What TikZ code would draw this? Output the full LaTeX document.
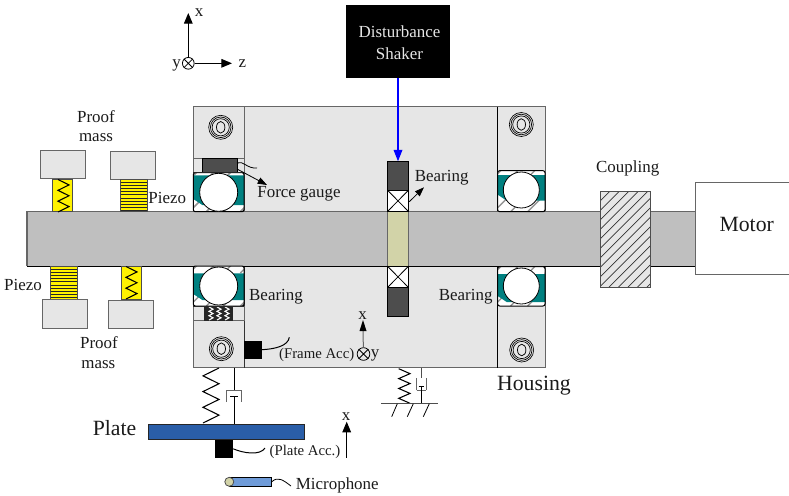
\documentclass[tikz,border=0pt]{standalone}
\usepackage{fontspec}
\setmainfont{Liberation Serif}
\usetikzlibrary{arrows.meta}
\definecolor{hous}{HTML}{E6E6E6}
\definecolor{shaftc}{HTML}{BFBFBF}
\definecolor{edgec}{HTML}{666666}
\definecolor{darkc}{HTML}{4D4D4D}
\definecolor{tealc}{HTML}{008080}
\definecolor{sand}{HTML}{D2D3A8}
\definecolor{platec}{HTML}{2A5EA8}
\definecolor{micc}{HTML}{6F9BD8}
\definecolor{txt}{HTML}{1A1A1A}
\tikzset{
  lab/.style={font=\fontsize{12.7}{14}\selectfont,text=txt,inner sep=0pt},
  labs/.style={font=\fontsize{11.1}{13}\selectfont,text=txt,inner sep=0pt},
  labb/.style={font=\fontsize{16.3}{18}\selectfont,text=txt,inner sep=0pt},
  ed/.style={draw=edgec,line width=0.75pt},
  mass/.style={ed,fill=hous},
  piezo/.style={draw=darkc,line width=0.6pt,fill=yellow},
  zz/.style={line width=0.8pt,line join=miter},
  tip/.style={-{Triangle[length=8pt,width=6.5pt]},line width=0.75pt},
  tipg/.style={-{Triangle[length=8pt,width=6.5pt]},line width=0.75pt},
  wire/.style={line width=0.6pt},
  blok/.style={inner sep=0pt,outer sep=0pt,anchor=north west}
}
% #1 name, #2 x1, #3 y1, #4 x2, #5 y2, #6 style
\newcommand\bx[6]{\pgfmathsetmacro\bw{(#4-#2)*0.75}\pgfmathsetmacro\bh{(#5-#3)*0.75}%
  \node[blok,minimum width=\bw pt,minimum height=\bh pt,#6] (#1) at (#2,#3) {};}
% zigzag: [colour] xl xr ytop ybot segments
\newcommand\zig[6][black]{\draw[zz,#1] plot[samples at={0,...,#6},variable=\k] ({mod(\k,2)==0?#2:#3},{#4+(#5-#4)*\k/#6});}
% bearing: xl xr ytop ybot tealtop tealbot cx cy r
\newcommand\bearing[9]{%
  \begin{scope}
    \clip[rounded corners=1.5pt] (#1,#3) rectangle (#2,#4);
    \fill[white] (#1,#3) rectangle (#2,#4);
    \foreach \q in {-4,13,30,47}{\draw[edgec!70,line width=1.1pt] ({#1+\q},#4) -- ++(14,-14);
      \draw[edgec!70,line width=1.1pt] ({#1+\q},{#3+7}) -- ++(8,-8);}
    \fill[tealc] (#1,#5) -- (#2,#5) -- (#2,#6) -- ({#1+9},#6) -- (#1,{#6-6}) -- cycle;
  \end{scope}
  \draw[black,line width=0.75pt,rounded corners=1.5pt] (#1,#3) rectangle (#2,#4);
  \draw[black,line width=0.6pt,fill=white] (#7,#8) circle[radius=#9];}
% screw: x y
\newcommand\screw[2]{%
  \foreach \r in {12,10.3,8.6}{\draw[line width=0.5pt] (#1,#2) circle[radius=\r];}
  \draw[line width=0.55pt] (#1,#2) ellipse[x radius=4.2,y radius=5.8];}
% crossed box
\newcommand\crossbox[4]{\draw[line width=0.6pt,fill=white] (#1,#3) rectangle (#2,#4);
  \draw[line width=0.6pt] (#1,#3) -- (#2,#4) (#1,#4) -- (#2,#3);}
\begin{document}
\begin{tikzpicture}[x=0.75pt,y=-0.75pt]
\useasboundingbox (0,0) rectangle (789,496);
% housing
\fill[hous] (193.3,106.7) rectangle (545,367.7);
\draw[ed] (193.3,106.7) rectangle (545,367.7);
\draw[ed] (244,106.7) -- (244,211);
\draw[black!80,line width=0.75pt] (244,266) -- (244,367.7);
\draw[black,line width=0.75pt] (497.7,106.7) -- (497.7,367.7);
% motor
\draw[ed,fill=white] (800,182) -- (695.3,182) -- (695.3,274) -- (800,274);
% shaft
\fill[shaftc] (27,211.7) rectangle (695.3,266);
\draw[edgec,line width=1pt] (27,266) -- (27,211.7) -- (695.3,211.7);
\draw[black,line width=0.75pt] (27,266) -- (695.3,266);
% coupling
\begin{scope}
  \clip (600.3,191.3) rectangle (650.3,287.3);
  \fill[hous] (600.3,191.3) rectangle (650.3,287.3);
  \foreach \q in {0,...,16}{\draw[line width=0.45pt,black!80] ({600.3+\q*9.5-96},287.3) -- ++(96,-96);}
\end{scope}
\draw[darkc,line width=0.75pt] (600.3,191.3) rectangle (650.3,287.3);
% upper piezos and masses
\draw[mass] (40.3,150) rectangle (85.7,178.7);
\draw[mass] (110.3,151) rectangle (155.7,179.3);
\draw[piezo] (52,179) rectangle (72.7,211.7);
\zig{58}{69}{212}{179.5}{6}
\draw[piezo] (120.7,179.5) rectangle (147,211.7);
\foreach \q in {0,...,9}{\draw[line width=0.6pt,black!85] (120.7,{182+\q*3.2}) -- (147,{182+\q*3.2});}
% lower piezos and masses
\draw[piezo] (50.7,266) rectangle (77,299.3);
\foreach \q in {0,...,9}{\draw[line width=0.6pt,black!85] (50.7,{269+\q*3.2}) -- (77,{269+\q*3.2});}
\draw[mass] (42,299.3) rectangle (87.3,328);
\draw[piezo] (121,266) rectangle (141.7,299.7);
\zig{126}{137}{266.5}{299}{6}
\draw[mass] (108,300) rectangle (153.3,328.5);
% bearings
\bearing{193.3}{244}{172.7}{211.7}{175.3}{205}{218.7}{192.3}{19}
\bearing{193.3}{244}{266}{306}{273.3}{300}{218.7}{286}{19}
\bearing{497.7}{545}{170.7}{211.7}{175}{200.7}{521.3}{190}{18}
\bearing{497.7}{545}{266.7}{306}{274}{302}{521.3}{286}{18}
% force gauge row
\fill[hous] (193.3,158.7) rectangle (244,172.7);
\draw[ed] (193.3,158.7) rectangle (244,172.7);
\bx{gauge}{202.3}{158.7}{237.3}{172.7}{fill=darkc,draw=black,line width=0.5pt}
\draw[black!85,line width=0.75pt] (193.3,172.7) -- (244,172.7);
% lower force cell
\fill[hous] (193.3,306) rectangle (244,320.7);
\draw[ed] (193.3,306) rectangle (244,320.7);
\fill[black!85] (204,306) rectangle (233.3,320.7);
\zig[white]{209}{213}{307}{320}{6}
\zig[white]{217}{221}{307}{320}{6}
\zig[white]{225}{229}{307}{320}{6}
\draw[black!85,line width=0.75pt] (193.3,306) -- (244,306);
% screws
\screw{220.7}{127.3}
\screw{221.3}{348.7}
\screw{521.3}{124.5}
\screw{521.7}{350}
% centre bearing
\fill[sand] (387.3,211.7) rectangle (408.7,266);
\draw[edgec,line width=0.75pt] (387.3,211.7) rectangle (408.7,266);
\bx{topblock}{387.3}{161.3}{408.7}{190}{fill=darkc,draw=black,line width=0.5pt}
\crossbox{387.3}{408.7}{190}{211.7}
\crossbox{387.3}{408.7}{266}{287.7}
\bx{botblock}{387.3}{287.7}{408.7}{316.7}{fill=darkc,draw=black,line width=0.5pt}
% shaker
\bx{shaker}{345.7}{5}{450.3}{77.5}{fill=black}
\node[lab,text=hous,align=center,font=\fontsize{12.7}{16.5}\selectfont] (shakertxt) at (399.5,43) {Disturbance\\Shaker};
\draw[blue,line width=0.9pt,-{Triangle[length=8.5pt,width=6.5pt]}] (shaker.south -| topblock.north) -- (topblock.north);
% labels
\node[lab] (pm1a) at (96,117) {Proof};
\node[lab] (pm1b) at (96,138) {mass};
\node[lab] (pz1) at (167.3,197.5) {Piezo};
\node[lab] (pz2) at (23,285) {Piezo};
\node[lab] (pm2a) at (99,343) {Proof};
\node[lab] (pm2b) at (98.3,365) {mass};
\node[lab] (fg) at (299,194) {Force gauge};
\node[lab] (b1) at (441.7,178) {Bearing};
\node[lab] (b2) at (276,297) {Bearing};
\node[lab] (b3) at (465.7,297) {Bearing};
\node[lab] (cpl) at (627.7,168) {Coupling};
\node[labb] (mot) at (746.7,224) {Motor};
\node[labb] (hs) at (534,385.5) {Housing};
\node[labb] (pl) at (114.5,428) {Plate};
\node[labs] (fa) at (316.7,355) {(Frame Acc)};
\node[labs] (pa) at (305,451.5) {(Plate Acc.)};
\node[lab] (mc) at (337.3,485) {Microphone};
% leader arrows and wires
\coordinate (fgs) at (237,169);
\coordinate (fge) at (267,185);
\draw[-{Triangle[length=7pt,width=5pt]},line width=0.6pt] (fgs) -- (fge);
\coordinate (fws) at (237,163);
\coordinate (fwe) at (257,168);
\draw[wire] (fws) .. controls (243,160) and (247,169) .. (fwe);
\coordinate (bas) at (409.3,201.7);
\coordinate (bae) at (424,187.3);
\draw[-{Triangle[length=7pt,width=5pt]},line width=0.6pt] (bas) -- (bae);
% frame accelerometer
\bx{facc}{244}{340.7}{262}{358.7}{fill=black}
\coordinate (fae) at (289.3,337.3);
\draw[line width=0.75pt] (facc.east) .. controls (275,349) and (288,346) .. (fae);
% plate
\bx{plate}{148.7}{424}{304.3}{439.7}{fill=platec,draw=black!85,line width=0.75pt}
\bx{pacc}{215.3}{439.7}{233.3}{458}{fill=black}
\coordinate (pae) at (265,448);
\draw[line width=0.75pt] (pacc.east) .. controls (243,453) and (260,456) .. (pae);
% top axes
\node[circle,draw,line width=0.6pt,inner sep=0pt,minimum size=8.8pt] (ax1) at (188.3,63.3) {};
\draw[line width=0.6pt] (ax1.45) -- (ax1.225) (ax1.135) -- (ax1.315);
\coordinate (ax1x) at (188.3,13);
\coordinate (ax1z) at (232,63.3);
\draw[tip] (ax1) -- (ax1x);
\draw[tip] (ax1) -- (ax1z);
\node[lab] (t1x) at (199,13) {x};
\node[lab] (t1y) at (176.7,65) {y};
\node[lab] (t1z) at (242.3,64) {z};
% housing axes
\node[circle,draw,line width=0.6pt,inner sep=0pt,minimum size=9.5pt] (ax2) at (363.5,354) {};
\draw[line width=0.6pt] (ax2.45) -- (ax2.225) (ax2.135) -- (ax2.315);
\coordinate (ax2x) at (363,320);
\draw[line width=0.75pt,draw=edgec] (ax2) -- (363,330);
\fill[black] (ax2x) -- (359.5,331) -- (366.5,331) -- cycle;
\node[lab] (t2x) at (362.7,315.5) {x};
\node[lab] (t2y) at (375,355) {y};
% plate x arrow
\coordinate (ax3a) at (346.7,457.7);
\coordinate (ax3b) at (346.7,421.7);
\draw[tip] (ax3a) -- (ax3b);
\node[lab] (t3x) at (346,417) {x};
% left suspension
\coordinate (hb1) at (234,367.7);
\coordinate (cup1) at (234,390);
\coordinate (pis1) at (234,396.7);
\draw[line width=0.75pt] (hb1) -- (cup1);
\zig{219}{203}{368}{423}{7}
\draw[edgec,line width=0.75pt] (226.7,402) -- (226.7,390) -- (241.3,390) -- (241.3,402);
\draw[line width=0.75pt] (230,396.7) -- (238,396.7);
\draw[line width=0.75pt] (pis1) -- (plate.north -| pis1);
% right suspension
\coordinate (hb2) at (421,367.7);
\coordinate (cup2) at (421,378.3);
\coordinate (pis2) at (421,386);
\coordinate (gnd) at (421,403.7);
\draw[darkc,line width=0.75pt] (hb2) -- (cup2);
\zig{398.7}{410}{368.7}{403.3}{7}
\draw[edgec,line width=0.75pt] (416.7,390) -- (416.7,378.3) (426,378.3) -- (426,390) (416.7,390) -- (426,390);
\draw[line width=0.6pt] (418.5,386) -- (424,386);
\draw[line width=0.75pt] (pis2) -- (gnd);
\draw[darkc,line width=0.75pt] (381.3,403.7) -- (438,403.7);
\draw[line width=0.6pt] (397.3,403.7) -- (391.7,416.7) (413.3,403.7) -- (407.3,416.7) (429.3,403.7) -- (423.3,416.7);
% microphone
\bx{mic}{229}{477.3}{271.7}{486.3}{fill=micc,draw=black,line width=0.7pt}
\draw[darkc,line width=0.6pt,fill=sand] (229.3,481.8) circle[radius=4.5];
\coordinate (mce) at (291,486);
\draw[wire] (mic.east) .. controls (278,476) and (283,480) .. (mce);
\end{tikzpicture}
\end{document}
